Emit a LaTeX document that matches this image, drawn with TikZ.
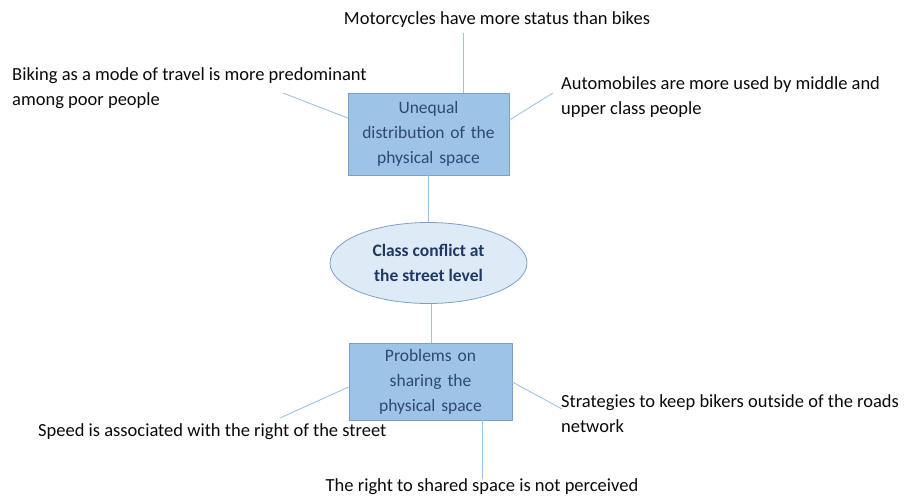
\documentclass[tikz,border=0pt]{standalone}
\usepackage{fontspec}
\setmainfont{Carlito}
\usetikzlibrary{shapes.geometric}
\definecolor{boxfill}{RGB}{157,195,230}
\definecolor{boxdraw}{RGB}{120,160,205}
\definecolor{boxtext}{RGB}{46,74,110}
\definecolor{ellfill}{RGB}{222,235,247}
\definecolor{elldraw}{RGB}{125,160,200}
\definecolor{elltext}{RGB}{31,56,100}
\definecolor{conn}{RGB}{157,195,230}
\definecolor{labtext}{RGB}{10,10,10}
\tikzset{
  bluebox/.style={draw=boxdraw, fill=boxfill, line width=0.8pt, minimum width=161pt, minimum height=82pt, text width=158pt, align=center, text=boxtext, inner sep=0pt, font=\fontsize{17.5}{25}\selectfont},
  ell/.style={ellipse, draw=elldraw, fill=ellfill, line width=0.8pt, minimum width=197pt, minimum height=81pt, align=center, text=elltext, inner sep=0pt, font=\bfseries\fontsize{17.5}{25}\selectfont},
  lab/.style={text=labtext, inner sep=0pt, font=\fontsize{18.5}{25}\selectfont},
  connector/.style={draw=conn, line width=0.9pt}
}
\begin{document}
\begin{tikzpicture}[x=1pt,y=-1pt]
\useasboundingbox (0,0) rectangle (904,496);
\node[bluebox] (top) at (428.5,134) {Unequal\\distribution of the\\physical space};
\node[ell] (mid) at (428.5,263) {Class conflict at\\the street level};
\node[bluebox, minimum width=163pt, minimum height=77pt] (bot) at (430.5,381.5) {Problems on\\sharing the\\physical space};

\node[lab] (motor) at (497,20) {Motorcycles have more status than bikes};
\node[lab, anchor=west, align=left] (biking) at (12,88) {Biking as a mode of travel is more predominant\\among poor people};
\node[lab, anchor=west, align=left] (auto) at (561,97) {Automobiles are more used by middle and\\upper class people};
\node[lab, anchor=west] (speed) at (38,432) {Speed is associated with the right of the street};
\node[lab, anchor=west, align=left] (strat) at (561,414) {Strategies to keep bikers outside of the roads\\network};
\node[lab] (right) at (482,487) {The right to shared space is not perceived};

\coordinate (cmotor) at (463.5,33);
\coordinate (cbiking) at (283,93);
\coordinate (cauto) at (553,93);
\coordinate (cspeed) at (280,418);
\coordinate (cstrat) at (562,409);
\coordinate (cright) at (482,479);

\draw[connector] (top.south -| mid.north) -- (mid.north);
\draw[connector] (mid.south) ++(2.5,0) coordinate (ms) -- (ms |- bot.north);
\draw[connector] (cmotor) -- (cmotor |- top.north);
\draw[connector] (cbiking) -- (top.west |- 0,118);
\draw[connector] (cauto) -- (top.east |- 0,120);
\draw[connector] (cspeed) -- (bot.west |- 0,387);
\draw[connector] (cstrat) -- (bot.east |- 0,382);
\draw[connector] (cright) -- (cright |- bot.south);
\end{tikzpicture}
\end{document}
